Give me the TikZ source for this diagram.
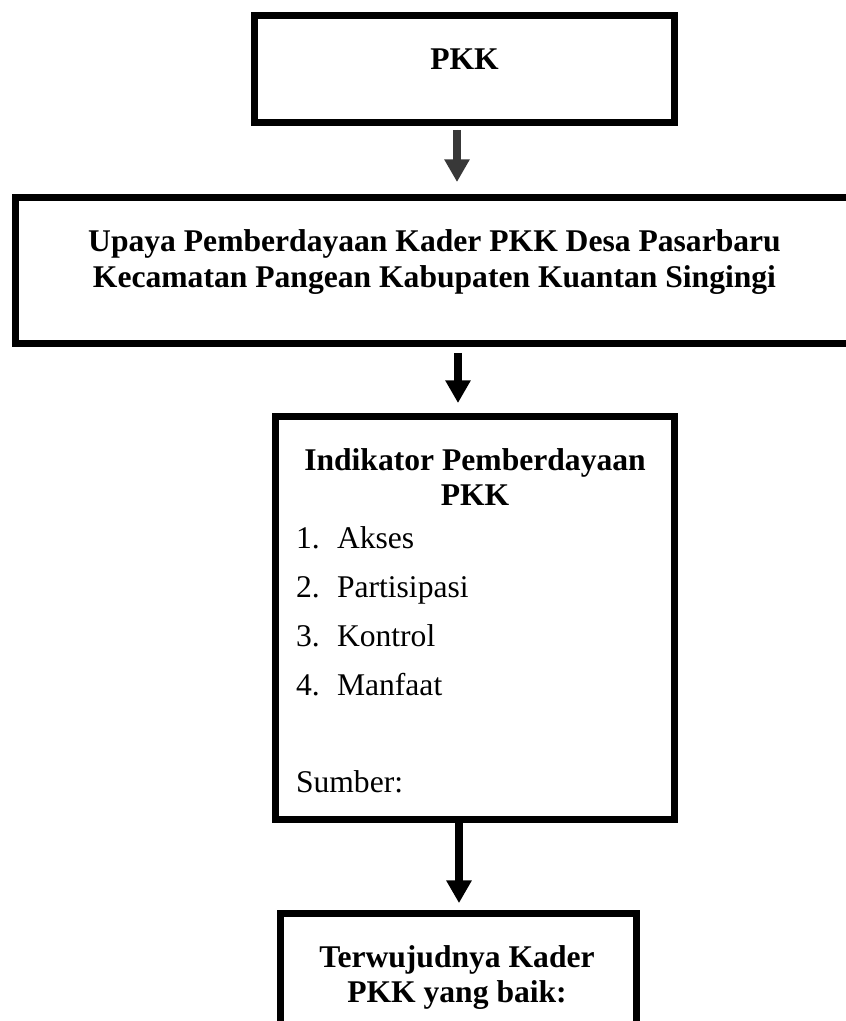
\documentclass[tikz,border=0pt]{standalone}
\usepackage{fontspec}
\setmainfont{Liberation Serif}
\usetikzlibrary{arrows.meta}
\begin{document}
\begin{tikzpicture}[x=0.75pt,y=-0.75pt,
  box/.style={draw=black,line width=5.25pt,inner sep=0pt,outer sep=0pt},
  txt/.style={inner sep=0pt,outer sep=0pt,anchor=base,font=\fontsize{23.7}{26.6}\selectfont},
  btxt/.style={txt,font=\fontsize{23.7}{26.6}\selectfont\bfseries},
  ltxt/.style={txt,anchor=base west},
  arr/.style={line width=6pt,-{Triangle[length=17pt,width=18pt]}}]
\useasboundingbox (0,0) rectangle (846,1021);
% boxes
\node[box,minimum width=315pt,minimum height=80.25pt] (b1) at (464.5,69) {};
\node[box,minimum width=628.5pt,minimum height=109.5pt] (b2) at (434.5,270.5) {};
\node[box,minimum width=299.25pt,minimum height=302.25pt] (b3) at (475,618) {};
\node[box,minimum width=267pt,minimum height=140pt] (b4) at (458.5,1007) {};
% texts
\node[btxt] (t1) at (464.5,69) {PKK};
\node[btxt] (t2a) at (434.5,251) {Upaya Pemberdayaan Kader PKK Desa Pasarbaru};
\node[btxt] (t2b) at (434.5,287) {Kecamatan Pangean Kabupaten Kuantan Singingi};
\node[btxt] (t3a) at (475,470) {Indikator Pemberdayaan};
\node[btxt] (t3b) at (475,505) {PKK};
\node[ltxt] (n1) at (296,548) {1.};
\node[ltxt] (i1) at (337,548) {Akses};
\node[ltxt] (n2) at (296,597) {2.};
\node[ltxt] (i2) at (337,597) {Partisipasi};
\node[ltxt] (n3) at (296,646) {3.};
\node[ltxt] (i3) at (337,646) {Kontrol};
\node[ltxt] (n4) at (296,695) {4.};
\node[ltxt] (i4) at (337,695) {Manfaat};
\node[ltxt] (s) at (296,792) {Sumber:};
\node[btxt] (t4a) at (457,967) {Terwujudnya Kader};
\node[btxt] (t4b) at (457,1002) {PKK yang baik:};
% arrow columns
\coordinate (c1) at (457,0);
\coordinate (c2) at (458,0);
\coordinate (c3) at (459,0);
% connectors
\draw[arr,draw=black!78,fill=black!78,shorten <=5.6pt,shorten >=11.6pt] (b1.south -| c1) -- (b2.north -| c1);
\draw[arr,shorten <=7.1pt,shorten >=10.1pt] (b2.south -| c2) -- (b3.north -| c2);
\draw[arr,shorten <=2.6pt,shorten >=7.9pt] (b3.south -| c3) -- (b4.north -| c3);
\end{tikzpicture}
\end{document}
